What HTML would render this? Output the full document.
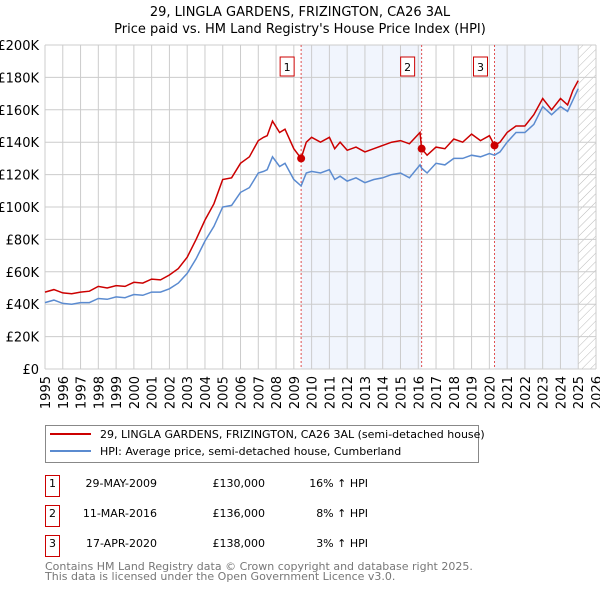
<!DOCTYPE html>
<html><head><meta charset="utf-8"><style>
body{margin:0;background:#fff;font-family:"Liberation Sans","DejaVu Sans",sans-serif;}
svg text{font-family:"DejaVu Sans","Liberation Sans",sans-serif;}
</style></head><body>
<svg id="c" width="600" height="590" viewBox="0 0 600 590" xmlns="http://www.w3.org/2000/svg">
<text x="300" y="16" text-anchor="middle" font-size="13" fill="#000">29, LINGLA GARDENS, FRIZINGTON, CA26 3AL</text>
<text x="300" y="33" text-anchor="middle" font-size="13" fill="#000">Price paid vs. HM Land Registry's House Price Index (HPI)</text>
<defs><pattern id="hatch" width="6" height="6" patternUnits="userSpaceOnUse" patternTransform="rotate(45)"><line x1="0" y1="0" x2="0" y2="6" stroke="#bbb" stroke-width="1"/></pattern></defs>
<g id="plot"></g>
<rect x="45.5" y="425.5" width="433" height="37" fill="#fff" stroke="#888"/>
<line x1="50" y1="434" x2="91" y2="434" stroke="#cc0000" stroke-width="2"/>
<text x="100" y="438" font-size="11">29, LINGLA GARDENS, FRIZINGTON, CA26 3AL (semi-detached house)</text>
<line x1="50" y1="451" x2="91" y2="451" stroke="#5b8bd0" stroke-width="2"/>
<text x="100" y="455" font-size="11">HPI: Average price, semi-detached house, Cumberland</text>
<g font-size="11">
<rect x="45.5" y="475.5" width="14" height="21" fill="none" stroke="#cc0000"/><text x="52.5" y="487" text-anchor="middle">1</text>
<text x="157" y="487" text-anchor="end">29-MAY-2009</text><text x="265" y="487" text-anchor="end">£130,000</text><text x="368" y="487" text-anchor="end">16% ↑ HPI</text>
<rect x="45.5" y="505.5" width="14" height="21" fill="none" stroke="#cc0000"/><text x="52.5" y="517" text-anchor="middle">2</text>
<text x="157" y="517" text-anchor="end">11-MAR-2016</text><text x="265" y="517" text-anchor="end">£136,000</text><text x="368" y="517" text-anchor="end">8% ↑ HPI</text>
<rect x="45.5" y="535.5" width="14" height="21" fill="none" stroke="#cc0000"/><text x="52.5" y="547" text-anchor="middle">3</text>
<text x="157" y="547" text-anchor="end">17-APR-2020</text><text x="265" y="547" text-anchor="end">£138,000</text><text x="368" y="547" text-anchor="end">3% ↑ HPI</text>
</g>
<text x="45" y="570" font-size="11" fill="#777">Contains HM Land Registry data © Crown copyright and database right 2025.</text>
<text x="45" y="580" font-size="11" fill="#777">This data is licensed under the Open Government Licence v3.0.</text>
</svg>
<script>
const years=[1995,1995.5,1996,1996.5,1997,1997.5,1998,1998.5,1999,1999.5,2000,2000.5,2001,2001.5,2002,2002.5,2003,2003.5,2004,2004.5,2005,2005.5,2006,2006.5,2007,2007.3,2007.5,2007.8,2008.2,2008.5,2009,2009.41,2009.7,2010,2010.5,2011,2011.3,2011.6,2012,2012.5,2013,2013.5,2014,2014.5,2015,2015.5,2016.1,2016.19,2016.5,2017,2017.5,2018,2018.5,2019,2019.5,2020,2020.29,2020.6,2021,2021.5,2022,2022.5,2023,2023.5,2024,2024.4,2024.7,2025];
const priceK=[47.5,49,47,46.5,47.5,48,51,50,51.5,51,53.5,53,55.5,55,58,62,69,80,92,102,117,118,127,131,141,143,144,153,146,148,136,130,140,143,140,143,136,140,135,137,134,136,138,140,141,139,146,136,132,137,136,142,140,145,141,144,138,140,146,150,150,157,167,160,167,163,172,178];
const hpiK=[41,42.5,40.5,40,41,41,43.5,43,44.5,44,46,45.5,47.5,47.5,49.5,53,59,68,79,88,100,101,109,112,121,122,123,131,125,127,117,113,121,122,121,123,117,119,116,118,115,117,118,120,121,118,126,124,121,127,126,130,130,132,131,133,132,134,140,146,146,151,162,157,162,159,166,173];
const saleYears=[2009.41,2016.19,2020.29];
const saleK=[130,136,138];
const yTicks=[0,20,40,60,80,100,120,140,160,180,200];
const xTicks=[1995,1996,1997,1998,1999,2000,2001,2002,2003,2004,2005,2006,2007,2008,2009,2010,2011,2012,2013,2014,2015,2016,2017,2018,2019,2020,2021,2022,2023,2024,2025,2026];
const dataEnd=2025.0;
const L=45,R=596,T=45,B=369;
const X=y=>L+(y-1995)/(2026-1995)*(R-L);
const Y=v=>B-v/200*(B-T);
const NS='http://www.w3.org/2000/svg';
const g=document.getElementById('plot');
function mk(t,a){const e=document.createElementNS(NS,t);for(const k in a)e.setAttribute(k,a[k]);g.appendChild(e);return e;}
let e;
e=mk('rect',{x:X(saleYears[0]),y:T,width:X(saleYears[1])-X(saleYears[0]),height:B-T,fill:'#eef3fc',opacity:0.8});


e=mk('rect',{x:X(saleYears[2]),y:T,width:X(dataEnd)-X(saleYears[2]),height:B-T,fill:'#eef3fc',opacity:0.8});


e=mk('rect',{x:X(dataEnd),y:T,width:R-X(dataEnd),height:B-T,fill:'url(#hatch)'});


yTicks.forEach(v=>{
 e=mk('line',{x1:L,x2:R,y1:Y(v),y2:Y(v),stroke:'#ccc','stroke-width':1});
 
 
 e=mk('text',{x:L-6,y:Y(v)+5,'text-anchor':'end','font-size':13});
 e.textContent=v===0?'£0':'£'+v+'K';
 
 
});
xTicks.forEach(yr=>{
 e=mk('line',{x1:X(yr),x2:X(yr),y1:T,y2:B,stroke:'#ccc','stroke-width':1});
 
 
 e=mk('text',{x:0,y:0,'text-anchor':'end','font-size':13,transform:`translate(${X(yr)+5},${B+7}) rotate(-90)`});
 e.textContent=yr;
 
 
});
saleYears.forEach((s,i)=>{
 e=mk('line',{x1:X(s),x2:X(s),y1:T,y2:B,stroke:'#e05050','stroke-width':1,'stroke-dasharray':'2,2'});
 
 
 e=mk('rect',{x:X(s)-21,y:57,width:14,height:19,fill:'#fff',stroke:'#cc0000'});
 
 
 e=mk('text',{x:X(s)-14,y:71,'text-anchor':'middle','font-size':11});
 e.textContent=String(i+1);
 
 
});
const pts=a=>years.map((y,i)=>X(y).toFixed(1)+','+Y(a[i]).toFixed(1)).join(' ');
e=mk('polyline',{points:pts(hpiK),fill:'none',stroke:'#5b8bd0','stroke-width':1.5});


e=mk('polyline',{points:pts(priceK),fill:'none',stroke:'#cc0000','stroke-width':1.5});


saleYears.forEach((s,i)=>{
 e=mk('circle',{cx:X(s),cy:Y(saleK[i]),r:4,fill:'#cc0000'});
 
 
});
</script>
</body></html>
